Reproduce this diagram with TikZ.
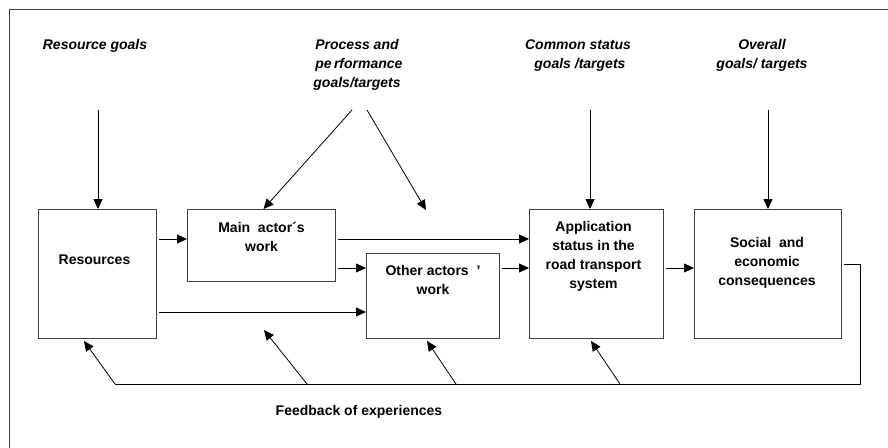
\documentclass[tikz,border=0pt]{standalone}
\usepackage{fontspec}
\setmainfont{Liberation Sans}
\usetikzlibrary{arrows.meta,calc,positioning}
\tikzset{
  >={Triangle[length=10pt,width=9pt]},
  box/.style={draw=black!75,line width=1pt,rectangle,anchor=north west,inner sep=0pt},
  boxtext/.style={align=center,inner sep=0pt,font=\fontsize{14}{19}\selectfont\bfseries},
  goaltext/.style={align=center,inner sep=0pt,font=\fontsize{14}{19}\selectfont\bfseries\itshape},
  link/.style={->,line width=0.8pt},
  fbline/.style={line width=1pt},
}

\begin{document}
\begin{tikzpicture}[x=1pt,y=-1pt]
  \useasboundingbox (0,0) rectangle (888,447);
  \draw[draw=black!75,line width=1pt] (9,9) rectangle (895,455);

  \node[box,minimum width=118,minimum height=129] (res) at (38,209) {};
  \node[box,minimum width=148,minimum height=72]  (main) at (187,209) {};
  \node[box,minimum width=133,minimum height=85]  (oth) at (366,253) {};
  \node[box,minimum width=134,minimum height=129] (app) at (529,209) {};
  \node[box,minimum width=147,minimum height=129] (soc) at (694,209) {};

  \node[boxtext] (res-t)  at ($(res.north)+(-3,51)$)  {Resources};
  \node[boxtext] (main-t) at ($(main.north)+(0,27.5)$) {Main\ \ actor´s\\work};
  \node[boxtext] (oth-t)  at ($(oth.north)+(0,26.5)$)  {Other actors\ \ ’\\work};
  \node[boxtext] (app-t)  at ($(app.north)+(-3,47.5)$)  {Application\\status in the\\road transport\\system};
  \node[boxtext] (soc-t)  at ($(soc.north)+(-1,54)$)   {Social\ \ and\\economic\\consequences};

  \node[goaltext] (rg) at (95,46)    {Resource goals};
  \node[goaltext] (pp) at (357,65)   {Process and\\\ pe\,rformance\\goals/targets};
  \node[goaltext] (cs) at (578,55.5) {Common status\\\ goals /targets};
  \node[goaltext] (og) at (762,55.5) {Overall\\goals/ targets};

  \coordinate (rg-s)  at (98,110);
  \coordinate (pp-s1) at (352,110);
  \coordinate (pp-s2) at (367,110);
  \coordinate (pp-e)  at (426,210);
  \coordinate (cs-s)  at (590,110);
  \coordinate (og-s)  at (768,110);

  \draw[link] (rg-s) -- (rg-s |- res.north);
  \draw[link] (pp-s1) -- ($(main.north)+(2,0)$);
  \draw[link] (pp-s2) -- (pp-e);
  \draw[link] (cs-s) -- (cs-s |- app.north);
  \draw[link] (og-s) -- (og-s |- soc.north);

  \coordinate (ya) at (0,239);
  \coordinate (yb) at (0,268);
  \coordinate (yc) at (0,312);
  \coordinate (yd) at (0,264);

  \draw[link,shorten <=2pt] (res.east |- ya) -- (main.west |- ya);
  \draw[link,shorten <=2pt] (main.east |- ya) -- (app.west |- ya);
  \draw[link,shorten <=2pt] (main.east |- yb) -- (oth.west |- yb);
  \draw[link,shorten <=2pt] (res.east |- yc) -- (oth.west |- yc);
  \draw[link,shorten <=2pt] (oth.east |- yb) -- (app.west |- yb);
  \draw[link,shorten <=2pt] (app.east |- yb) -- (soc.west |- yb);

  \coordinate (fb0) at (860,384);
  \coordinate (fb1) at (115,384);
  \coordinate (fb2) at (307,384);
  \coordinate (fb3) at (456,384);
  \coordinate (fb4) at (620,384);
  \draw[fbline,shorten <=2pt] (soc.east |- yd) -- (fb0 |- yd) -- (fb0) -- (fb1);

  \coordinate (fb1-e) at (84,341);
  \coordinate (fb2-e) at (264,330);
  \coordinate (fb3-e) at (427,341);
  \coordinate (fb4-e) at (591,341);
  \draw[link] (fb1) -- (fb1-e);
  \draw[link] (fb2) -- (fb2-e);
  \draw[link] (fb3) -- (fb3-e);
  \draw[link] (fb4) -- (fb4-e);

  \node[boxtext] (fb-t) at (359,412) {Feedback of experiences};
\end{tikzpicture}
\end{document}
